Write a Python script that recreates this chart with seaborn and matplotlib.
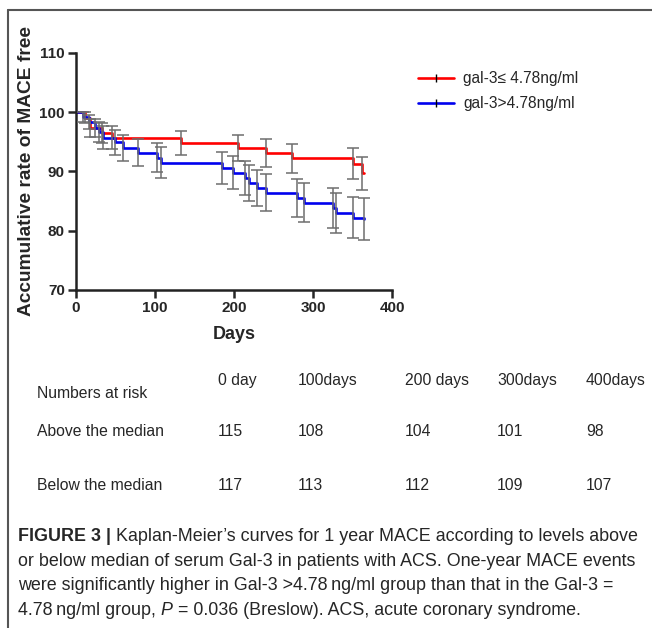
import matplotlib
matplotlib.use("Agg")
import matplotlib.pyplot as plt
import seaborn as sns
import pandas as pd
from matplotlib.lines import Line2D

# Kaplan-Meier steps
low_days = [0, 12, 18, 33, 45, 133, 205, 240, 274, 351, 362, 364]
low_surv = [100, 99.1, 97.4, 96.5, 95.7, 94.8, 94.0, 93.1, 92.2, 91.3, 89.7, 89.7]
low_err = [0, 0.9, 1.5, 1.7, 1.9, 2.05, 2.2, 2.35, 2.5, 2.6, 2.8, 0]

high_days = [0, 9, 17, 24, 29, 34, 49, 60, 78, 102, 108, 185, 199, 214, 219, 229,
             240, 280, 289, 325, 329, 350, 364]
high_surv = [100, 99.2, 98.3, 97.4, 96.6, 95.7, 94.9, 94.0, 93.2, 92.3, 91.5, 90.6,
             89.8, 88.9, 88.1, 87.2, 86.4, 85.5, 84.7, 83.8, 83.0, 82.2, 82.0]
high_err = [0, 0.85, 1.2, 1.5, 1.7, 1.9, 2.05, 2.2, 2.35, 2.45, 2.6, 2.7, 2.8, 2.9,
            3.0, 3.05, 3.15, 3.25, 3.3, 3.4, 3.45, 3.5, 3.55]

labels = ["gal-3\u2264 4.78ng/ml", "gal-3>4.78ng/ml"]
colors = ["#ff0000", "#0000ee"]

risk_header = ["0 day", "100days", "200 days", "300days", "400days"]
risk_above = [115, 108, 104, 101, 98]
risk_below = [117, 113, 112, 109, 107]

df = pd.concat([
    pd.DataFrame({"Days": low_days, "Surv": low_surv, "Group": labels[0]}),
    pd.DataFrame({"Days": high_days, "Surv": high_surv, "Group": labels[1]}),
])

sns.set_style("ticks")
plt.rcParams["font.family"] = ["Liberation Sans", "DejaVu Sans"]

W, H = 652, 628
fig = plt.figure(figsize=(W / 100, H / 100), dpi=100)


def fx(x):
    return x / W


def fy(y):
    return 1 - y / H


ax = fig.add_axes([fx(76), fy(290), fx(392) - fx(76), fy(53) - fy(290)])

sns.lineplot(data=df, x="Days", y="Surv", hue="Group", palette=colors,
             drawstyle="steps-post", linewidth=1.9, legend=False, ax=ax,
             estimator=None, sort=False)

ax.errorbar(low_days[1:-1], low_surv[1:-1], yerr=low_err[1:-1], fmt="none",
            ecolor="#6e6e6e", elinewidth=1.1, capsize=4, capthick=1.1, zorder=4)
ax.errorbar(high_days[1:], high_surv[1:], yerr=high_err[1:], fmt="none",
            ecolor="#6e6e6e", elinewidth=1.1, capsize=4, capthick=1.1, zorder=4)

ax.set_xlim(0, 400)
ax.set_ylim(70, 110)
ax.set_xticks([0, 100, 200, 300, 400])
ax.set_yticks([70, 80, 90, 100, 110])
sns.despine(ax=ax)
for s in ["left", "bottom"]:
    ax.spines[s].set_linewidth(1.8)
    ax.spines[s].set_color("#222222")
ax.tick_params(direction="out", length=6, width=1.8, labelsize=11, pad=2)
for lab in ax.get_xticklabels() + ax.get_yticklabels():
    lab.set_fontweight("bold")
ax.set_xlabel("Days", fontsize=13, fontweight="bold", labelpad=8)
ax.set_ylabel("Accumulative rate of MACE free", fontsize=13.8, fontweight="bold")
ax.yaxis.set_label_coords((35 - 76) / (392 - 76), 0.5)

handles = [Line2D([0], [0], color=c, linewidth=1.9, marker="|", markersize=6,
                  markeredgecolor="black", markeredgewidth=1) for c in colors]
fig.legend(handles, labels, loc="upper left", bbox_to_anchor=(fx(404), fy(57)),
           frameon=False, fontsize=11.2, handlelength=2.3, labelspacing=0.65,
           handletextpad=0.6)

# numbers at risk table
cols_x = [218, 298, 405, 497, 586]
fs = 11.3
for x, t in zip(cols_x, risk_header):
    fig.text(fx(x), fy(380), t, fontsize=fs, va="center", ha="left")
fig.text(fx(37), fy(394), "Numbers at risk", fontsize=fs, va="center", ha="left")
fig.text(fx(37), fy(432), "Above the median", fontsize=fs, va="center", ha="left")
fig.text(fx(37), fy(485), "Below the median", fontsize=fs, va="center", ha="left")
for x, v in zip(cols_x, risk_above):
    fig.text(fx(x), fy(432), str(v), fontsize=fs, va="center", ha="left")
for x, v in zip(cols_x, risk_below):
    fig.text(fx(x), fy(485), str(v), fontsize=fs, va="center", ha="left")

# caption
cfs = 12.9
t1 = fig.text(fx(18), fy(541), "FIGURE 3 | ", fontsize=cfs, fontweight="bold",
              va="baseline", ha="left")
ax.annotate("Kaplan-Meier\u2019s curves for 1 year MACE according to levels above",
            xy=(1, 0), xycoords=t1, va="bottom", ha="left", fontsize=cfs,
            annotation_clip=False)
fig.text(fx(18), fy(566), "or below median of serum Gal-3 in patients with ACS. "
         "One-year MACE events", fontsize=cfs, va="baseline", ha="left")
fig.text(fx(18), fy(590), "were significantly higher in Gal-3 >4.78\u2009ng/ml group "
         "than that in the Gal-3 =", fontsize=cfs, va="baseline", ha="left")
t4 = fig.text(fx(18), fy(615), "4.78\u2009ng/ml group, ", fontsize=cfs,
              va="baseline", ha="left")
t5 = ax.annotate("P", xy=(1, 0), xycoords=t4, va="bottom", ha="left",
                 fontsize=cfs, style="italic", annotation_clip=False)
ax.annotate(" = 0.036 (Breslow). ACS, acute coronary syndrome.", xy=(1, 0),
            xycoords=t5, va="bottom", ha="left", fontsize=cfs,
            annotation_clip=False)

# page frame
fig.add_artist(Line2D([fx(8), 1], [fy(10), fy(10)], color="#555555", linewidth=1.5))
fig.add_artist(Line2D([fx(8), fx(8)], [fy(10), 0], color="#555555", linewidth=1.5))

fig.savefig("out.png", dpi=100)
